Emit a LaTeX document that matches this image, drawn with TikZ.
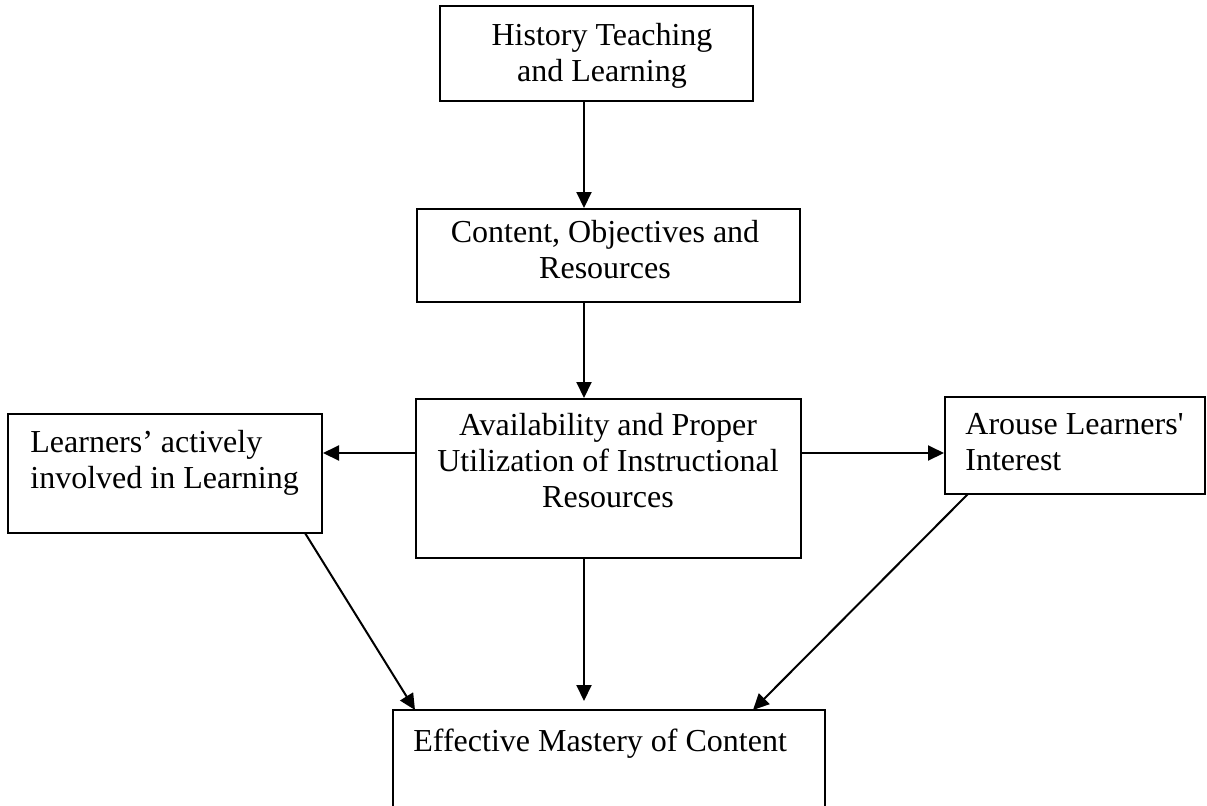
\documentclass[tikz,border=0pt]{standalone}
\usepackage{fontspec}
\setmainfont{Liberation Serif}
\usetikzlibrary{arrows.meta, positioning}

\tikzset{
  box/.style={draw, line width=1pt, inner sep=0pt},
  lbl/.style={inner sep=0pt, font=\fontsize{16}{18}\selectfont},
  flow/.style={-{Triangle[length=8pt, width=7.5pt]}, line width=1pt},
}

\begin{document}
\begin{tikzpicture}[x=0.5pt, y=-0.5pt]
  \useasboundingbox (0,0) rectangle (1207,805);
  \clip (0,0) rectangle (1207,805);

  % boxes
  \node[box, minimum width=156.5pt, minimum height=47.5pt] (hist) at (596.5,53.5) {};
  \node[box, minimum width=191.5pt, minimum height=46.5pt] (cont) at (608.5,255.5) {};
  \node[box, minimum width=192.5pt, minimum height=79.5pt] (avail) at (608.5,478.5) {};
  \node[box, minimum width=157pt, minimum height=59.5pt] (lrn) at (165,473.5) {};
  \node[box, minimum width=130pt, minimum height=48.5pt] (arouse) at (1075,445.5) {};
  \node[box, minimum width=216pt, minimum height=95pt] (eff) at (609,805) {};

  % texts
  \node[lbl, align=center, anchor=north] (histtxt) at (602,23) {History Teaching\\and Learning};
  \node[lbl, align=center, anchor=north] (conttxt) at (605,220) {Content, Objectives and\\Resources};
  \node[lbl, align=center, anchor=north] (availtxt) at (608,413) {Availability and Proper\\Utilization of Instructional\\Resources};
  \node[lbl, align=left, anchor=north west] (lrntxt) at (30,430) {Learners’ actively\\involved in Learning};
  \node[lbl, align=left, anchor=north west] (arousetxt) at (965,413) {Arouse Learners\textquotesingle\\Interest};
  \node[lbl, anchor=base west] (efftxt) at (413,751) {Effective Mastery of Content};

  % arrows
  \coordinate (axis) at (584,0);
  \coordinate (row) at (0,453);
  \coordinate (lrnfoot) at (305,533);
  \coordinate (efftopL) at (415,710);
  \coordinate (arousefoot) at (968,494);
  \coordinate (efftopR) at (753,710);
  \draw[flow] (hist.south -| axis) -- (cont.north -| axis);
  \draw[flow] (cont.south -| axis) -- (avail.north -| axis);
  \draw[flow] (avail.west |- row) -- (lrn.east |- row);
  \draw[flow] (avail.east |- row) -- (arouse.west |- row);
  \draw[flow, shorten >=4pt] (avail.south -| axis) -- (eff.north -| axis);
  \draw[flow] (lrnfoot) -- (efftopL);
  \draw[flow] (arousefoot) -- (efftopR);
\end{tikzpicture}
\end{document}
